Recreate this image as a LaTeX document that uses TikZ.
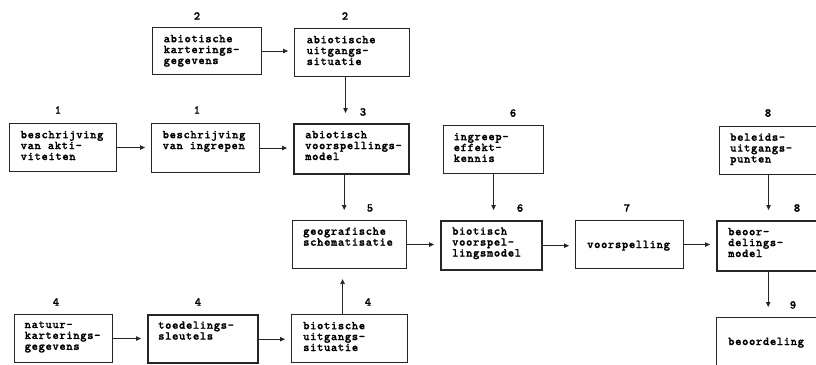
\documentclass[tikz,border=0pt]{standalone}
\usepackage{fontspec}
\newfontfamily\typew{lmmonolt10-bold.otf}[AutoFakeBold=1.3, LetterSpace=5.4]
\usetikzlibrary{arrows.meta}
\begin{document}
\begin{tikzpicture}[x=1pt,y=-1pt,
  box/.style={draw=black!85, line width=1.1pt, rectangle, inner sep=0, anchor=north west},
  heavybox/.style={box, line width=2.4pt},
  txt/.style={anchor=north west, inner sep=0, align=left,
    font=\typew\bfseries\fontsize{12}{10.9}\selectfont,
    execute at begin node=\strut},
  num/.style={inner sep=0, font=\typew\bfseries\fontsize{12}{11}\selectfont},
  arr/.style={draw=black!85, line width=0.8pt, -{Triangle[length=5pt,width=4.5pt]}},
  harr/.style={arr, shorten >=6pt},
  varr/.style={arr, shorten >=10pt}
]
\useasboundingbox (0,0) rectangle (816,364);
\clip (0,0) rectangle (816,364);

% boxes
\node[box, minimum width=107, minimum height=48] (A) at (9,123) {};
\node[box, minimum width=108, minimum height=49] (B) at (151,123) {};
\node[box, minimum width=109, minimum height=47] (C) at (152,27) {};
\node[box, minimum width=115, minimum height=48] (D) at (294,28) {};
\node[heavybox, minimum width=115, minimum height=50] (E) at (293,123) {};
\node[box, minimum width=100, minimum height=48] (F) at (443,125) {};
\node[box, minimum width=101, minimum height=48] (G) at (719,126) {};
\node[box, minimum width=114, minimum height=48] (H) at (292,220) {};
\node[heavybox, minimum width=101, minimum height=49] (I) at (440,220) {};
\node[box, minimum width=108, minimum height=48] (J) at (575,220) {};
\node[heavybox, minimum width=104, minimum height=50] (K) at (716,220) {};
\node[box, minimum width=104, minimum height=52] (L) at (716,317) {};
\node[box, minimum width=98, minimum height=48] (M) at (14,314) {};
\node[heavybox, minimum width=110, minimum height=48] (N) at (147,314) {};
\node[box, minimum width=116, minimum height=48] (O) at (291,314) {};

% box texts
\node[txt] (tA) at ([shift={(11.5,7.7)}]A.north west) {beschrijving\\van akti-\\viteiten};
\node[txt] (tB) at ([shift={(11.5,7.7)}]B.north west) {beschrijving\\van ingrepen};
\node[txt] (tC) at ([shift={(11.5,7.7)}]C.north west) {abiotische\\karterings-\\gegevens};
\node[txt] (tD) at ([shift={(12.5,7.7)}]D.north west) {abiotische\\uitgangs-\\situatie};
\node[txt] (tE) at ([shift={(12,7.7)}]E.north west) {abiotisch\\voorspellings-\\model};
\node[txt] (tF) at ([shift={(10.5,7.7)}]F.north west) {ingreep-\\effekt-\\kennis};
\node[txt] (tG) at ([shift={(11,7.2)}]G.north west) {beleids-\\uitgangs-\\punten};
\node[txt] (tH) at ([shift={(11,7.2)}]H.north west) {geografische\\schematisatie};
\node[txt] (tI) at ([shift={(12,7.2)}]I.north west) {biotisch\\voorspel-\\lingsmodel};
\node[txt] (tJ) at ([shift={(12,20.2)}]J.north west) {voorspelling};
\node[txt] (tK) at ([shift={(12,7.7)}]K.north west) {beoor-\\delings-\\model};
\node[txt] (tL) at ([shift={(12,20.2)}]L.north west) {beoordeling};
\node[txt] (tM) at ([shift={(10.5,7.2)}]M.north west) {natuur-\\karterings-\\gegevens};
\node[txt] (tN) at ([shift={(11,7.2)}]N.north west) {toedelings-\\sleutels};
\node[txt] (tO) at ([shift={(12,7.7)}]O.north west) {biotische\\uitgangs-\\situatie};

% step numbers
\node[num] (nA) at (58,110) {1};
\node[num] (nB) at (197,110) {1};
\node[num] (nC) at (197,16) {2};
\node[num] (nD) at (345,16) {2};
\node[num] (nE) at (363,112) {3};
\node[num] (nF) at (513,113) {6};
\node[num] (nG) at (768,113) {8};
\node[num] (nH) at (370,208) {5};
\node[num] (nI) at (520,208) {6};
\node[num] (nJ) at (627,208) {7};
\node[num] (nK) at (797,208) {8};
\node[num] (nL) at (793,305) {9};
\node[num] (nM) at (56,302) {4};
\node[num] (nN) at (198,302) {4};
\node[num] (nO) at (368,302) {4};

% horizontal connectors
\draw[harr] (A.east) -- (A.east -| B.west);
\draw[harr] (B.east) -- (B.east -| E.west);
\draw[harr] (C.east) -- (C.east -| D.west);
\draw[harr] (H.east) -- (H.east -| I.west);
\draw[harr] (I.east) -- (I.east -| J.west);
\draw[harr] (J.east) -- (J.east -| K.west);
\draw[harr] (M.east) -- (M.east -| N.west);
\draw[harr] (N.east) -- (N.east -| O.west);

% vertical connectors
\draw[varr] ([xshift=-6.5pt]D.south) -- ([xshift=-6.5pt]D.south |- E.north);
\draw[varr] ([xshift=-7.5pt]E.south) -- ([xshift=-7.5pt]E.south |- H.north);
\draw[varr] (F.south) -- (F.south |- I.north);
\draw[varr] ([xshift=-1.5pt]G.south) -- ([xshift=-1.5pt]G.south |- K.north);
\draw[varr] ([xshift=-1pt]K.south) -- ([xshift=-1pt]K.south |- L.north);
\draw[varr] ([xshift=-7pt]O.north) -- ([xshift=-7pt]O.north |- H.south);
\end{tikzpicture}
\end{document}
